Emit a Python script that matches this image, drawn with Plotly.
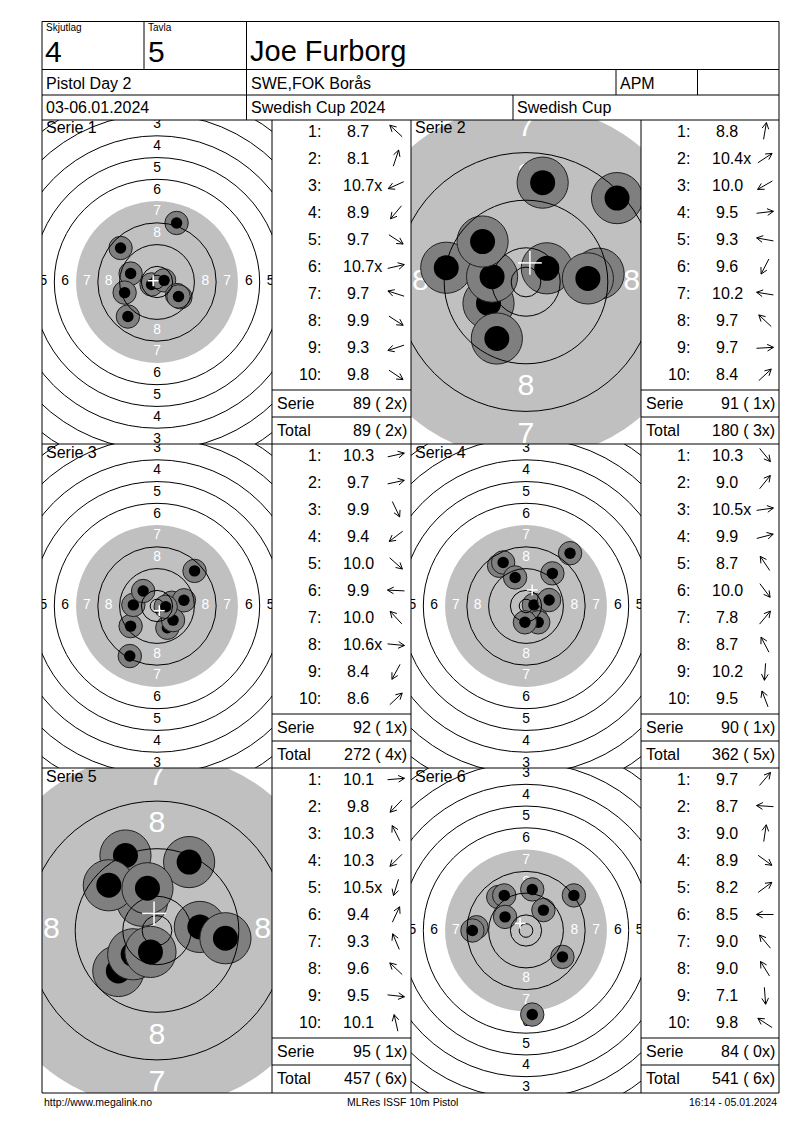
import math
import plotly.graph_objects as go

W, H = 792, 1122   # page body keeps an 8 px margin
OFF = 8
FONT = 'Liberation Sans, Arial, sans-serif'

# header fields
squad = "4"
lane = "5"
shooter = "Joe Furborg"
event = "Pistol Day 2"
club = "SWE,FOK Borås"
klass = "APM"
dates = "03-06.01.2024"
competition = "Swedish Cup 2024"
cup = "Swedish Cup"
footer_left = "http://www.megalink.no"
footer_mid = "MLRes ISSF 10m Pistol"
footer_right = "16:14 - 05.01.2024"

scores_1 = ["8.7", "8.1", "10.7x", "8.9", "9.7", "10.7x", "9.7", "9.9", "9.3", "9.8"]
hx_1 = [-13.4, 7.2, -2.0, -10.7, 8.6, 2.6, -9.7, 7.4, -11.9, 7.9]
hy_1 = [12.5, 21.7, -0.9, -12.7, -5.6, 0.6, 3.1, -4.8, -3.9, -5.3]

scores_2 = ["8.8", "10.4x", "10.0", "9.5", "9.3", "9.6", "10.2", "9.7", "9.7", "8.4"]
hx_2 = [2.8, 3.5, -6.3, 12.2, -13.4, -4.9, -5.7, -7.3, 10.4, 15.3]
hy_2 = [16.7, 2.3, -3.6, 1.4, 2.4, -9.5, 0.9, 6.8, 0.6, 14.1]

scores_3 = ["10.3", "9.7", "9.9", "9.4", "10.0", "9.9", "10.0", "10.6x", "8.4", "8.6"]
hx_3 = [5.4, 9.9, 3.8, -9.7, 5.9, -8.7, -5.1, 3.2, -10.0, 13.8]
hy_3 = [1.2, 2.1, -8.0, -7.4, -5.2, 0.4, 5.5, -0.3, -18.4, 12.9]

scores_4 = ["10.3", "9.0", "10.5x", "9.9", "8.7", "10.0", "7.8", "8.7", "10.2", "9.5"]
hx_4 = [3.5, 9.7, 2.9, 8.5, -9.9, 4.5, 16.2, -8.4, -0.4, -4.0]
hy_4 = [-4.3, 12.0, 0.4, 2.2, 14.8, -6.0, 19.4, 16.0, -6.0, 10.5]

scores_5 = ["10.1", "9.8", "10.3", "10.3", "10.5x", "9.4", "9.3", "9.6", "9.5", "10.1"]
hx_5 = [7.2, -6.5, -2.5, -4.0, -1.1, 5.4, -5.3, -8.1, 11.5, -1.6]
hy_5 = [0.6, -6.8, 5.0, -4.0, -3.6, 11.5, 12.6, 7.6, -1.3, 7.1]

scores_6 = ["9.7", "8.7", "9.0", "8.9", "8.2", "8.5", "9.0", "9.0", "7.1", "9.8"]
hx_6 = [6.4, -18.2, 2.3, 13.4, 17.6, -19.7, -10.2, -8.0, 2.3, -7.7]
hy_6 = [7.5, 1.2, 15.1, -9.7, 12.9, 0.0, 12.3, 12.9, -30.9, 5.0]

serie_sum = [89, 91, 92, 90, 95, 84]
serie_inner = [2, 1, 1, 1, 1, 0]
total_sum = [89, 180, 272, 362, 457, 541]
total_inner = [2, 3, 4, 5, 6, 6]

all_scores = [scores_1, scores_2, scores_3, scores_4, scores_5, scores_6]
all_hx = [hx_1, hx_2, hx_3, hx_4, hx_5, hx_6]
all_hy = [hy_1, hy_2, hy_3, hy_4, hy_5, hy_6]

# view zoom of each target (pixels per mm)
zoom = [2.72, 5.95, 2.72, 2.72, 5.95, 2.72]

# 10m air pistol target (mm)
RING_R = {n: 5.75 + 8 * (10 - n) for n in range(1, 11)}
INNER_TEN = 2.5
BLACK_R = 29.75
SHOT_R = 4.3
HOLE_R = 2.1

COLS = [(42, 272, 411), (411, 641, 779)]
ROWS = [(120, 444), (444, 768), (768, 1093)]


def px(x):
    return (x - OFF) / W


def py(y):
    return 1 - (y - OFF) / H


shapes = []
anns = []


def line(x0, y0, x1, y1, w=1):
    shapes.append(dict(type='line', xref='paper', yref='paper', x0=px(x0), y0=py(y0),
                       x1=px(x1), y1=py(y1), line=dict(color='black', width=w)))


def text(x, y, s, size=16, anchor='left'):
    anns.append(dict(xref='paper', yref='paper', x=px(x), y=py(y), text=s, showarrow=False,
                     xanchor=anchor, yanchor='middle', font=dict(size=size, color='black', family=FONT)))


def arrow(cx, cy, th, L=17, arm=7, spread=0.5):
    # open arrow centred on (cx, cy) pointing at angle th (screen px, y down)
    dx, dy = math.cos(th), -math.sin(th)
    tx, ty = cx - dx * L / 2, cy - dy * L / 2
    hx_, hy_ = cx + dx * L / 2, cy + dy * L / 2
    back = math.atan2(-dy, -dx)
    a1 = (hx_ + arm * math.cos(back + spread), hy_ + arm * math.sin(back + spread))
    a2 = (hx_ + arm * math.cos(back - spread), hy_ + arm * math.sin(back - spread))
    pts = lambda p: "%.5f,%.5f" % (px(p[0]), py(p[1]))
    path = "M%s L%s M%s L%s L%s" % (pts((tx, ty)), pts((hx_, hy_)), pts(a1),
                                    pts((hx_, hy_)), pts(a2))
    shapes.append(dict(type='path', xref='paper', yref='paper', path=path,
                       line=dict(color='black', width=1)))


fig = go.Figure()

# ---- header ----
for y in (21.5, 69.5, 95, 120, 444, 768, 1093):
    line(42, y, 779, y)
for x in (42, 779):
    line(x, 21.5, x, 1093)
line(144, 21.5, 144, 69.5)
line(246.5, 21.5, 246.5, 120)
line(616, 69.5, 616, 95)
line(697.5, 69.5, 697.5, 95)
line(513, 95, 513, 120)
for x in (272, 411, 641):
    line(x, 120, x, 1093)

text(44, 27, "Skjutlag", 10)
text(146, 27, "Tavla", 10)
text(43, 51, squad, 30)
text(146, 51, lane, 30)
text(248, 51, shooter, 29)
text(44, 83, event)
text(249, 83, club)
text(618, 83, klass)
text(44, 108, dates)
text(249, 108, competition)
text(515, 108, cup)
text(42, 1102, footer_left, 10.5)
text(402, 1102, footer_mid, 10.5, 'center')
text(779, 1102, footer_right, 10.5, 'right')

# ---- targets and tables ----
for i in range(6):
    r, c = divmod(i, 2)
    x0, x1, tx1 = COLS[c]
    y0, y1 = ROWS[r]
    s = zoom[i]
    hw = (x1 - x0) / 2 / s
    hh = (y1 - y0) / 2 / s
    sfx = '' if i == 0 else str(i + 1)
    xa, ya = 'x' + sfx, 'y' + sfx
    fig.update_layout(**{
        'xaxis' + sfx: dict(domain=[px(x0), px(x1)], range=[-hw, hw], visible=False,
                            fixedrange=True, anchor=ya),
        'yaxis' + sfx: dict(domain=[py(y1), py(y0)], range=[-hh, hh], visible=False,
                            fixedrange=True, anchor=xa),
    })

    # grey aiming area
    shapes.append(dict(type='circle', xref=xa, yref=ya, x0=-BLACK_R, y0=-BLACK_R,
                       x1=BLACK_R, y1=BLACK_R, fillcolor='#c0c0c0', line=dict(width=0),
                       layer='below'))

    # ring numbers
    lx, ly, lt, lc = [], [], [], []
    for n in range(1, 9):
        rm = RING_R[n] - 4
        for dx, dy in ((0, rm), (0, -rm), (rm, 0), (-rm, 0)):
            lx.append(dx)
            ly.append(dy)
            lt.append(str(n))
            lc.append('white' if n >= 7 else 'black')
    fig.add_trace(go.Scatter(x=lx, y=ly, text=lt, mode='text', xaxis=xa, yaxis=ya,
                             textfont=dict(size=5.1 * s, color=lc, family=FONT),
                             cliponaxis=True, hoverinfo='skip', showlegend=False))

    # shots: grey ring then hole, in shot order
    hx, hy = all_hx[i], all_hy[i]
    mx, my, ms, mc, mw = [], [], [], [], []
    for sx, sy in zip(hx, hy):
        mx += [sx, sx]
        my += [sy, sy]
        ms += [2 * SHOT_R * s, 2 * HOLE_R * s]
        mc += ['#7f7f7f', 'black']
        mw += [1, 0]
    fig.add_trace(go.Scatter(x=mx, y=my, mode='markers', xaxis=xa, yaxis=ya,
                             marker=dict(size=ms, color=mc, opacity=1,
                                         line=dict(color='#202020', width=mw)),
                             cliponaxis=True, hoverinfo='skip', showlegend=False))

    # ring lines
    for n in (1, 2, 3, 4, 5, 6, 8, 9, 10):
        rr = RING_R[n]
        shapes.append(dict(type='circle', xref=xa, yref=ya, x0=-rr, y0=-rr, x1=rr, y1=rr,
                           line=dict(color='black', width=1)))
    shapes.append(dict(type='circle', xref=xa, yref=ya, x0=-INNER_TEN, y0=-INNER_TEN,
                       x1=INNER_TEN, y1=INNER_TEN, line=dict(color='black', width=1)))

    # mean point of impact
    cx = sum(hx) / len(hx)
    cy = sum(hy) / len(hy)
    k = 2.0
    shapes.append(dict(type='line', xref=xa, yref=ya, x0=cx - k, y0=cy, x1=cx + k, y1=cy,
                       line=dict(color='white', width=1.5)))
    shapes.append(dict(type='line', xref=xa, yref=ya, x0=cx, y0=cy - k, x1=cx, y1=cy + k,
                       line=dict(color='white', width=1.5)))

    text(x0 + 2, y0 + 8, "Serie %d" % (i + 1))

    # score table
    tx0 = x1
    for k_, sc in enumerate(all_scores[i]):
        ry = y0 + 11 + 27.1 * k_
        text(tx0 + 51, ry, "%d:" % (k_ + 1), 16, 'right')
        shift = 4 if sc.endswith('x') else 0
        text(tx0 + 86 + shift, ry, sc, 16, 'center')
        arrow(tx0 + 124, ry, math.atan2(hy[k_], hx[k_]))
    line(tx0, y0 + 270, tx1, y0 + 270)
    line(tx0, y0 + 297, tx1, y0 + 297)
    text(tx0 + 3, y0 + 283, "Serie")
    text(tx1 - 2, y0 + 283, "%d ( %dx)" % (serie_sum[i], serie_inner[i]), 16, 'right')
    text(tx0 + 3, y0 + 310, "Total")
    text(tx1 - 2, y0 + 310, "%d ( %dx)" % (total_sum[i], total_inner[i]), 16, 'right')

fig.update_layout(width=W, height=H, autosize=False, margin=dict(l=0, r=0, t=0, b=0),
                  paper_bgcolor='white', plot_bgcolor='white', shapes=shapes,
                  annotations=anns, showlegend=False)
fig.write_html("out.html")
